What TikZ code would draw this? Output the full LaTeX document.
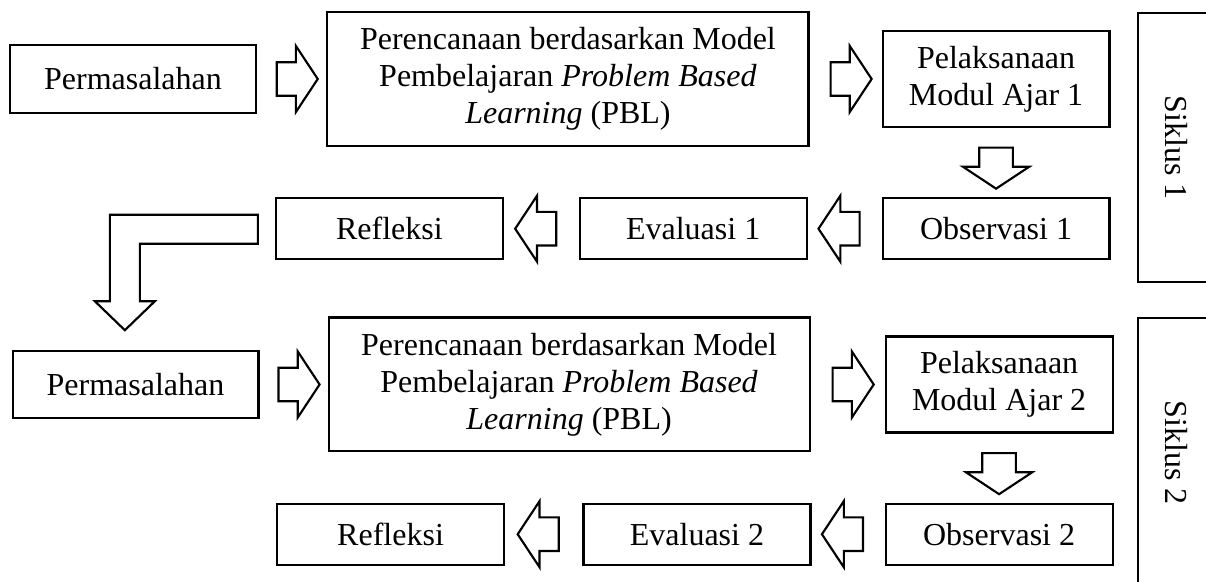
\documentclass[tikz,border=0pt]{standalone}
\usepackage{fontspec}
\setmainfont{Liberation Serif}
\usepackage{tikz}
\usetikzlibrary{shapes.arrows, positioning, calc}
\tikzset{
  box/.style={rectangle, draw=black, line width=0.8pt, align=center,
    inner sep=0pt, font=\fontsize{12}{13.9}\selectfont},
  stepbox/.style={box, minimum width=85.1pt, minimum height=22.9pt},
  probbox/.style={box, minimum width=92.2pt, minimum height=25.4pt},
  planbox/.style={box, minimum width=180.4pt, minimum height=50.2pt},
  implbox/.style={box, minimum width=85.1pt, minimum height=36pt},
  cyclebox/.style={box, rotate=-90, minimum width=100.9pt, minimum height=28.9pt},
  blockarrow/.style={single arrow, draw=black, line width=0.8pt,
    inner xsep=0pt, inner ysep=5.9pt, minimum height=15.4pt,
    single arrow head extend=6.1pt, single arrow tip angle=113,
    single arrow head indent=0pt},
  bendarrow/.style={draw=black, line width=0.8pt, line join=miter}
}

\begin{document}
\begin{tikzpicture}[x=0.375pt, y=-0.375pt]
  \useasboundingbox (0,0) rectangle (1206,582);
  % siklus 1
  \node[probbox] (p1) at (133,79) {Permasalahan};
  \node[planbox, right=26pt of p1] (b1) {Perencanaan berdasarkan Model\\
    Pembelajaran \textit{Problem Based}\\ \textit{Learning} (PBL)};
  \node[implbox, right=27pt of b1] (m1) {Pelaksanaan\\ Modul Ajar 1};
  \node[stepbox, below=25.9pt of m1] (o1) {Observasi 1};
  \node[stepbox, left=27.7pt of o1] (e1) {Evaluasi 1};
  \node[stepbox, left=28pt of e1] (r1) {Refleksi};
  \node[cyclebox] (s1) at (1176.5,147.5) {Siklus 1};
  % siklus 2
  \node[probbox] (p2) at (135.5,384.5) {Permasalahan};
  \node[planbox, right=25.5pt of p2] (b2) {Perencanaan berdasarkan Model\\
    Pembelajaran \textit{Problem Based}\\ \textit{Learning} (PBL)};
  \node[implbox, right=27.7pt of b2] (m2) {Pelaksanaan\\ Modul Ajar 2};
  \node[stepbox, below=25.9pt of m2] (o2) {Observasi 2};
  \node[stepbox, left=27.4pt of o2] (e2) {Evaluasi 2};
  \node[stepbox, left=29pt of e2] (r2) {Refleksi};
  \node[cyclebox] (s2) at (1176.5,452.5) {Siklus 2};
  % block arrows
  \node[blockarrow] (a1) at ($(p1.east)!0.5!(b1.west)$) {};
  \node[blockarrow] (a2) at ($(b1.east)!0.5!(m1.west)$) {};
  \node[blockarrow, rotate=-90] (a3) at ($(m1.south)!0.5!(o1.north)$) {};
  \node[blockarrow, rotate=180] (a4) at ($(o1.west)!0.5!(e1.east)$) {};
  \node[blockarrow, rotate=180] (a5) at ($(e1.west)!0.5!(r1.east)$) {};
  \node[blockarrow] (a6) at ($(p2.east)!0.5!(b2.west)$) {};
  \node[blockarrow] (a7) at ($(b2.east)!0.5!(m2.west)$) {};
  \node[blockarrow, rotate=-90] (a8) at ($(m2.south)!0.5!(o2.north)$) {};
  \node[blockarrow, rotate=180] (a9) at ($(o2.west)!0.5!(e2.east)$) {};
  \node[blockarrow, rotate=180] (a10) at ($(e2.west)!0.5!(r2.east)$) {};
  % refleksi 1 ke permasalahan 2
  \draw[bendarrow] ($(r1.west)+(-17,-14)$) -- ++(-148,0) -- ++(0,86.5)
    -- ++(-15,0) -- ++(30,29) -- ++(30,-29) -- ++(-15,0) -- ++(0,-57.5)
    -- ++(118,0) -- cycle;
\end{tikzpicture}
\end{document}
